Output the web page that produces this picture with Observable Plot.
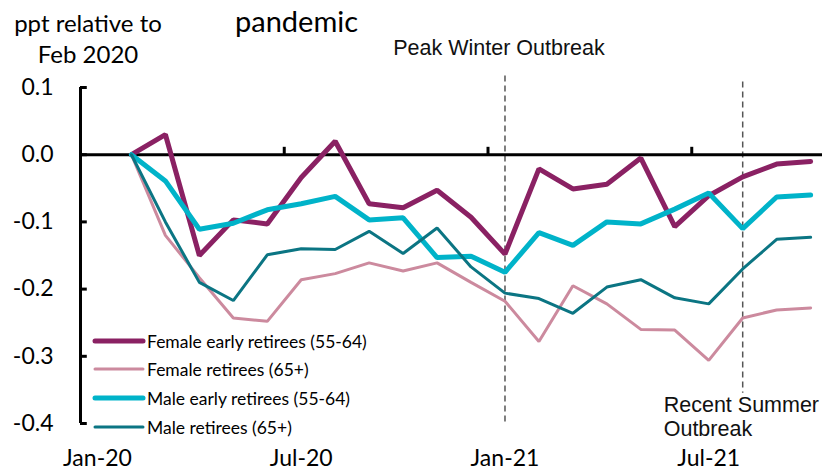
<!DOCTYPE html>
<html>
<head>
<meta charset="utf-8">
<script src="https://cdn.jsdelivr.net/npm/d3@7"></script>
<script src="https://cdn.jsdelivr.net/npm/@observablehq/plot@0.6"></script>
<style>
  html, body { margin: 0; padding: 0; background: #fff; }
  #wrap { position: relative; width: 822px; height: 470px; font-family: Lato, "Open Sans", sans-serif; color: #000; }
  #wrap svg { position: absolute; left: 0; top: 0; overflow: visible; }
  .ov { position: absolute; white-space: nowrap; }
  .legrow { position: absolute; left: 93px; height: 20px; display: flex; align-items: center; font-size: 17.5px; }
  .legrow svg { position: static !important; margin-right: 2px; }
</style>
</head>
<body>
<div id="wrap"></div>
<script>
// Month index: Jan-20 = 0, data runs Feb-20 (1) .. Oct-21 (21)
const months = d3.range(1, 22);
const xTickIdx = [0, 6, 12, 18];
const xTickLabels = ["Jan-20", "Jul-20", "Jan-21", "Jul-21"];
const yTicks = [0.1, 0, -0.1, -0.2, -0.3, -0.4];

const seriesNames = [
  "Female early retirees (55-64)",
  "Female retirees (65+)",
  "Male early retirees (55-64)",
  "Male retirees (65+)"
];
const seriesColors = ["#8a2163", "#cc8a9e", "#00b3c9", "#0b7583"];
const seriesWidths = [5, 3, 5, 3];

const femaleEarly = [0, 0.030, -0.150, -0.097, -0.103, -0.034, 0.020, -0.073, -0.079, -0.053, -0.093,
                     -0.148, -0.021, -0.051, -0.044, -0.005, -0.107, -0.061, -0.033, -0.014, -0.010];
const femaleRet   = [0, -0.120, -0.183, -0.243, -0.248, -0.186, -0.177, -0.161, -0.173, -0.161, -0.190,
                     -0.218, -0.278, -0.195, -0.222, -0.260, -0.261, -0.306, -0.243, -0.231, -0.228];
const maleEarly   = [0, -0.039, -0.111, -0.102, -0.082, -0.073, -0.062, -0.097, -0.094, -0.153, -0.151,
                     -0.175, -0.116, -0.135, -0.100, -0.103, -0.081, -0.057, -0.110, -0.063, -0.060];
const maleRet     = [0, -0.100, -0.190, -0.217, -0.149, -0.140, -0.141, -0.114, -0.147, -0.109, -0.167,
                     -0.206, -0.214, -0.236, -0.197, -0.186, -0.213, -0.222, -0.170, -0.126, -0.123];

const outbreakMonths = [12, 19];   // Jan-21, Aug-21
const xBoundaryTicks = [5.5, 11.5, 17.5];

const allSeries = [femaleEarly, femaleRet, maleEarly, maleRet];

const lineMarks = allSeries.map((vals, i) =>
  Plot.line(months.map((m, j) => ({m, v: vals[j]})), {
    x: "m", y: "v", stroke: seriesColors[i], strokeWidth: seriesWidths[i],
    strokeLinejoin: "miter", strokeLinecap: "round"
  })
);

const chart = Plot.plot({
  width: 822, height: 470,
  marginLeft: 80, marginRight: 0, marginTop: 87, marginBottom: 47,
  x: {domain: [-0.5, 21.35], axis: null},
  y: {domain: [-0.4, 0.1], axis: null},
  style: {fontFamily: "Lato, 'Open Sans', sans-serif", background: "transparent", color: "#000"},
  marks: [
    // dashed outbreak markers
    Plot.ruleX([outbreakMonths[0]], {y1: 0.117, y2: -0.4, stroke: "#555", strokeWidth: 1.5, strokeDasharray: "6,4"}),
    Plot.ruleX([outbreakMonths[1]], {y1: 0.108, y2: -0.355, stroke: "#555", strokeWidth: 1.5, strokeDasharray: "6,4"}),
    // zero line
    Plot.ruleY([0], {x1: -0.5, x2: 21.35, stroke: "#000", strokeWidth: 3}),
    // x boundary ticks (upward)
    Plot.ruleX(xBoundaryTicks, {y1: 0, y2: 0.011, stroke: "#000", strokeWidth: 3}),
    // y axis line
    Plot.ruleX([-0.5], {y1: -0.4, y2: 0.1, stroke: "#000", strokeWidth: 3}),
    // y ticks (inward)
    Plot.ruleY(yTicks, {x1: -0.5, x2: -0.3, stroke: "#000", strokeWidth: 3}),
    Plot.axisY({ticks: yTicks, tickSize: 0, tickPadding: 27, tickFormat: d => d.toFixed(1), fontSize: 23, label: null}),
    Plot.axisX({ticks: xTickIdx, tickSize: 0, tickPadding: 26, tickFormat: d => xTickLabels[xTickIdx.indexOf(d)], fontSize: 23, label: null}),
    ...lineMarks,
    Plot.text(["Peak Winter Outbreak"], {x: [outbreakMonths[0]], frameAnchor: "top", dy: -39, dx: -6,
      fontSize: 21.5, fontFamily: "'Liberation Sans', Arial, sans-serif", textAnchor: "middle", lineAnchor: "middle", fill: "#111"}),
    Plot.text(["Recent Summer\nOutbreak"], {x: [outbreakMonths[1]], frameAnchor: "bottom", dy: -7, dx: -79,
      fontSize: 21.5, lineHeight: 1.12, fontFamily: "'Liberation Sans', Arial, sans-serif", textAnchor: "start", lineAnchor: "middle", fill: "#111"})
  ]
});

const wrap = document.getElementById("wrap");
wrap.appendChild(chart);

// Title / y-axis label
const t1 = document.createElement("div");
t1.className = "ov";
t1.style.cssText = "left:0;top:7px;width:176px;text-align:center;font-size:24px;line-height:31px;";
t1.innerHTML = "ppt relative to<br>Feb 2020";
wrap.appendChild(t1);
const t2 = document.createElement("div");
t2.className = "ov";
t2.style.cssText = "left:235px;top:3px;font-size:29px;";
t2.textContent = "pandemic";
wrap.appendChild(t2);

// Legend
const legY = [341, 369, 398, 427];
seriesNames.forEach((name, i) => {
  const row = document.createElement("div");
  row.className = "legrow";
  row.style.top = (legY[i] - 10) + "px";
  const sw = d3.create("svg").attr("width", 52).attr("height", 20);
  sw.append("line").attr("x1", 2).attr("x2", 50).attr("y1", 10).attr("y2", 10)
    .attr("stroke", seriesColors[i]).attr("stroke-width", seriesWidths[i]).attr("stroke-linecap", "round");
  row.appendChild(sw.node());
  const s = document.createElement("span");
  s.textContent = name;
  row.appendChild(s);
  wrap.appendChild(row);
});
</script>
</body>
</html>
